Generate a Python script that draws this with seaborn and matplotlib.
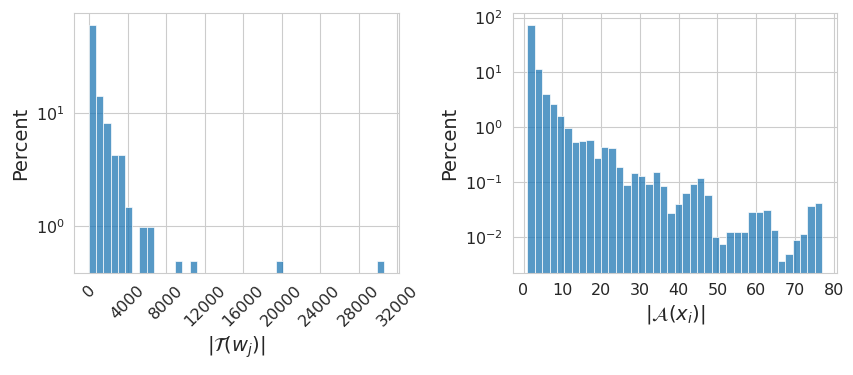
import numpy as np
import pandas as pd
import seaborn as sns
import matplotlib.pyplot as plt

# left panel: |T(w_j)| -> percent (only the non-empty bins)
t_size = [375, 1120, 1870, 2620, 3360, 4110, 5600, 6350, 9340, 10840, 19800, 30250]
t_pct = [60.9, 14.3, 8.16, 4.30, 4.30, 1.46, 0.973, 0.973, 0.487, 0.487, 0.487, 0.487]

# right panel: |A(x_i)| -> percent, 40 bins over 1..77
a_pct = [73.6, 11.7, 4.09, 2.62, 1.63, 0.986, 0.548, 0.573, 0.597, 0.281,
         0.445, 0.426, 0.185, 0.087, 0.144, 0.127, 0.0908, 0.150, 0.0834, 0.0269,
         0.0392, 0.0623, 0.0908, 0.118, 0.0573, 0.00986, 0.00746, 0.0122, 0.0122, 0.0122,
         0.0281, 0.0281, 0.0305, 0.0132, 0.00361, 0.00491, 0.00869, 0.01135, 0.0366, 0.0409]
a_edges = np.linspace(1, 77, 41)
a_size = (a_edges[:-1] + a_edges[1:]) / 2

df_t = pd.DataFrame({'size': t_size, 'pct': t_pct})
df_a = pd.DataFrame({'size': a_size, 'pct': a_pct})

sns.set_style("whitegrid")
plt.rcParams['xtick.labelsize'] = 11.5
plt.rcParams['ytick.labelsize'] = 11.5
plt.rcParams['axes.labelsize'] = 14
fig, axes = plt.subplots(1, 2, figsize=(8.54, 3.75), dpi=100)

sns.histplot(data=df_t, x='size', weights='pct', bins=41, binrange=(0, 30627), ax=axes[0])
axes[0].set_yscale('log')
axes[0].set_xticks(np.arange(0, 32001, 4000))
axes[0].tick_params(axis='x', labelrotation=45)
axes[0].set_xlabel(r'$|\mathcal{T}(w_j)|$')
axes[0].set_ylabel('Percent')

sns.histplot(data=df_a, x='size', weights='pct', bins=40, binrange=(1, 77), ax=axes[1])
axes[1].set_yscale('log')
axes[1].set_xticks(np.arange(0, 81, 10))
axes[1].set_xlabel(r'$|\mathcal{A}(x_i)|$')
axes[1].set_ylabel('Percent')

plt.subplots_adjust(left=0.087, right=0.98, top=0.965, bottom=0.272, wspace=0.352)
plt.savefig('out.png')
